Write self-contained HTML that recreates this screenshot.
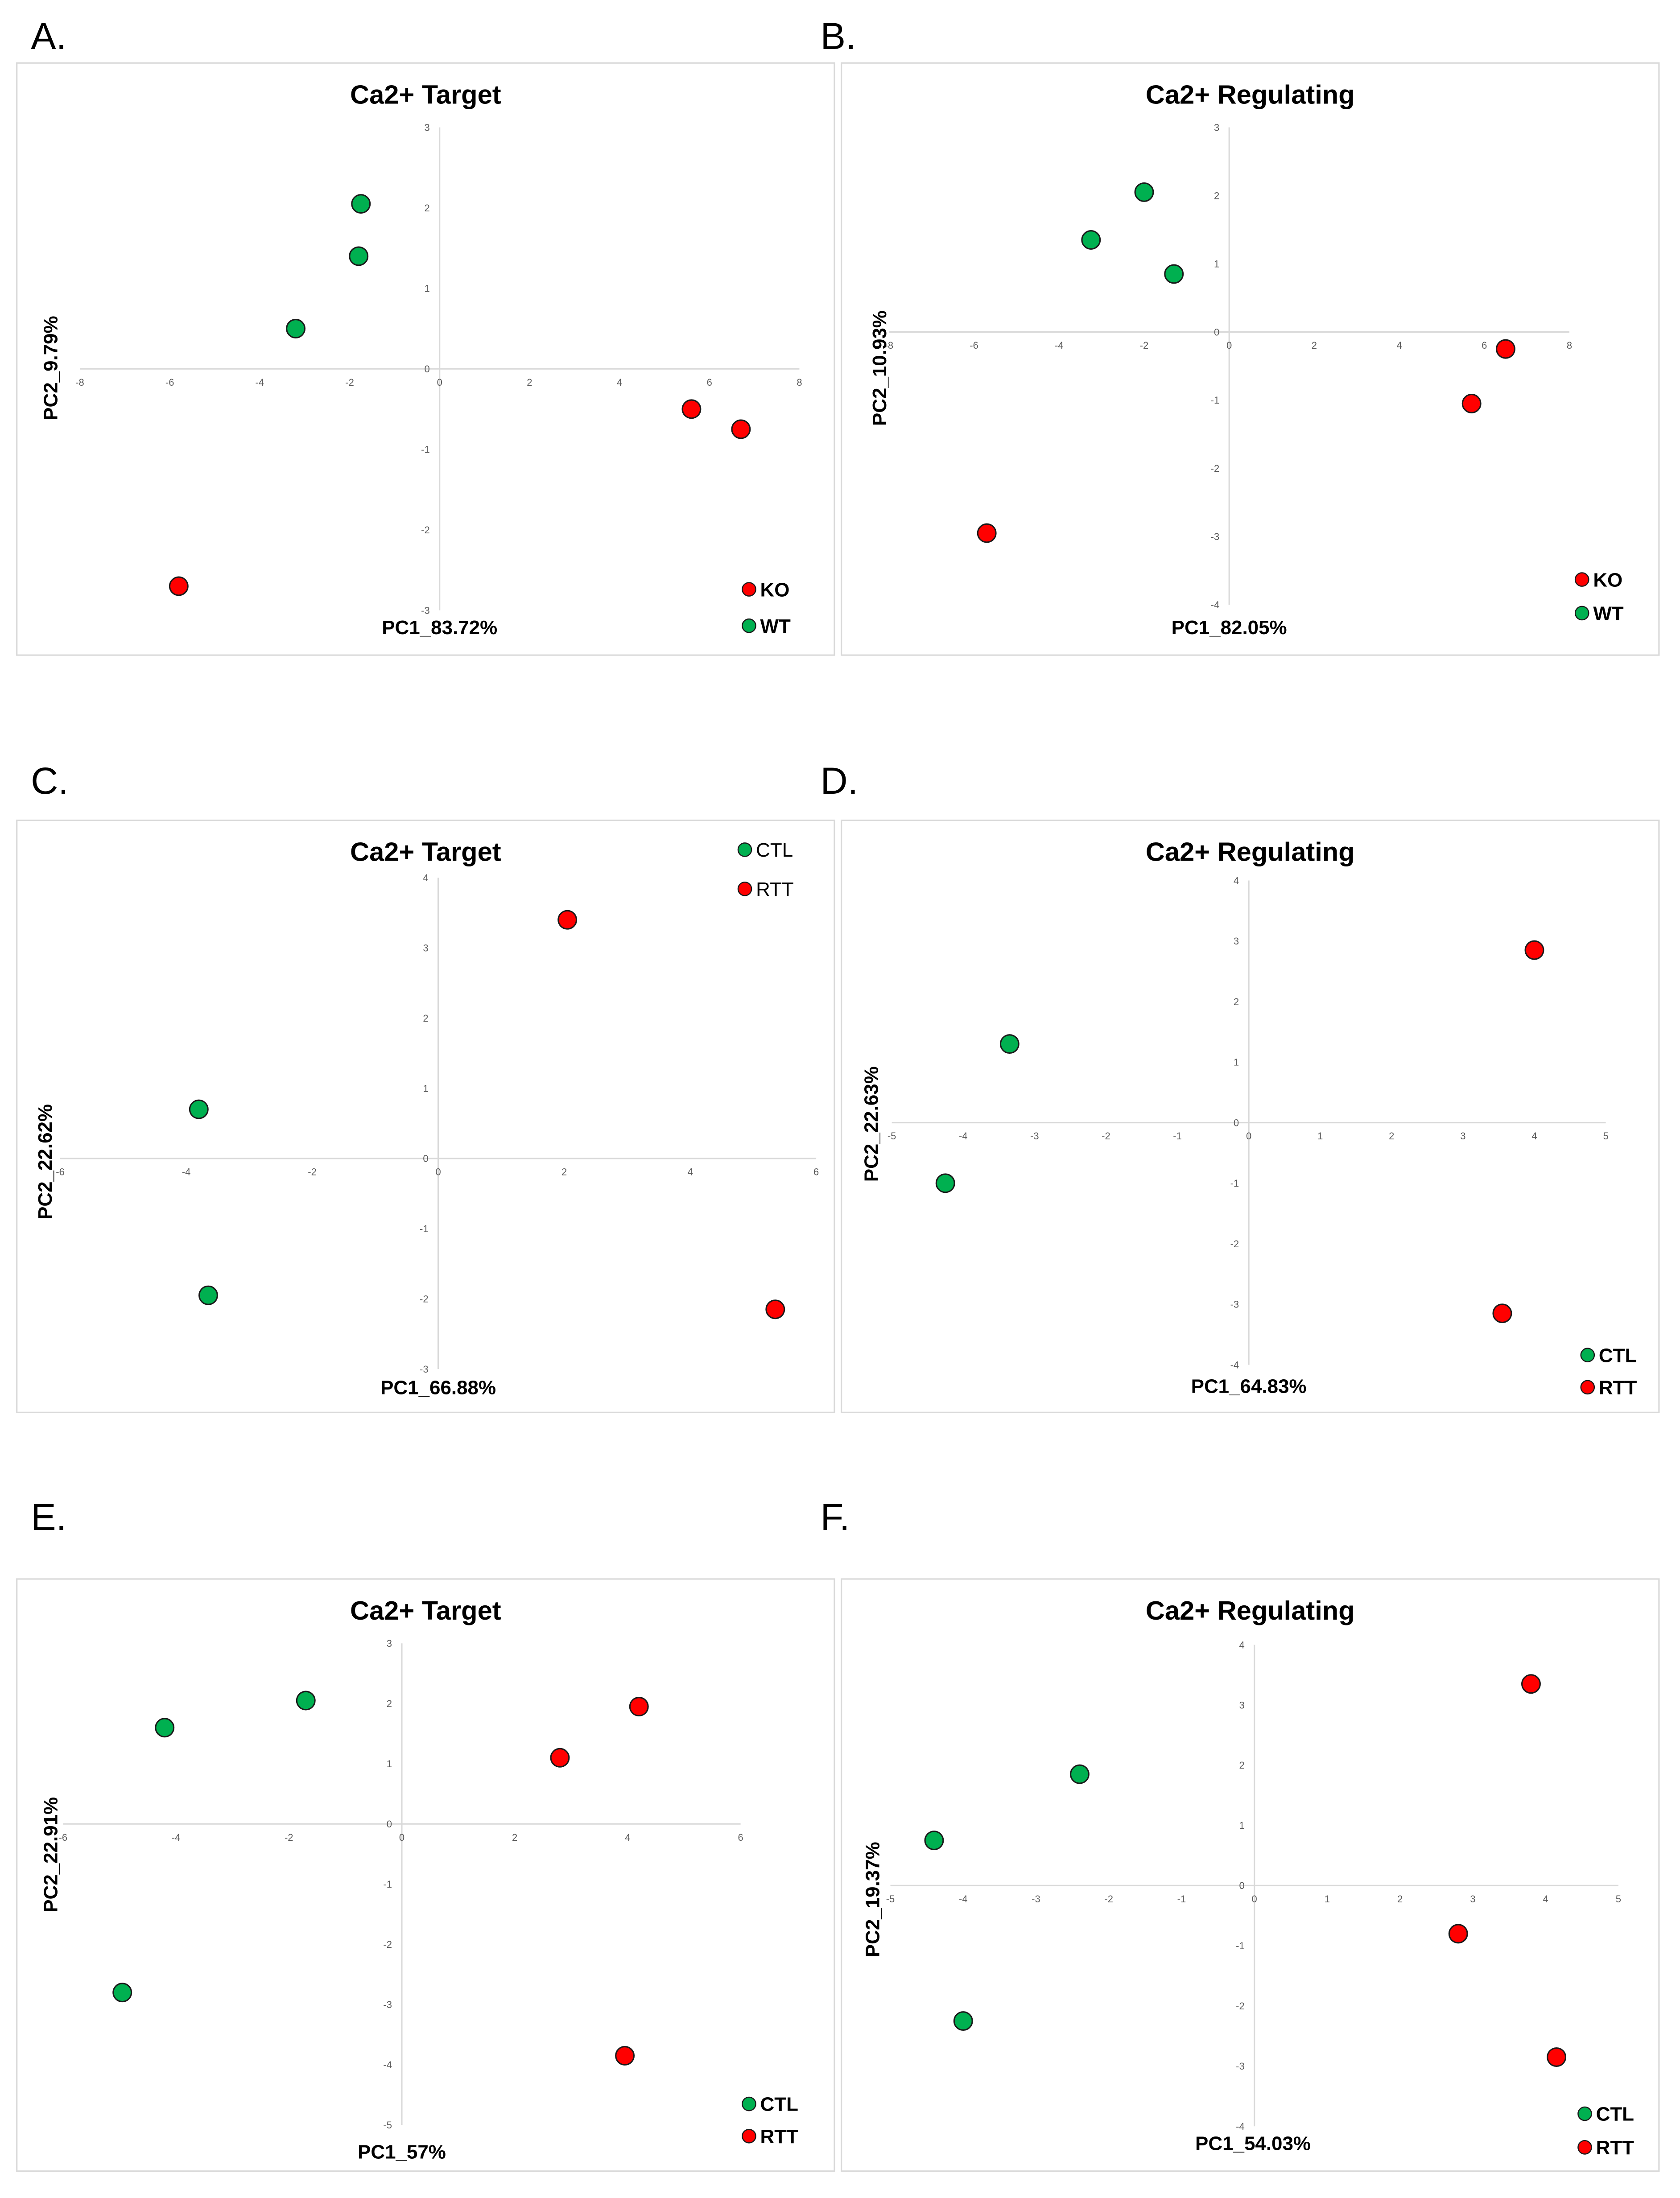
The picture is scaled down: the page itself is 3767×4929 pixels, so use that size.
<!DOCTYPE html>
<html><head><meta charset="utf-8"><style>
html,body{margin:0;padding:0;background:#fff}
svg{display:block}
text{font-family:"Liberation Sans",Arial,sans-serif}
</style></head><body>
<svg id="fig" width="3767" height="4929" viewBox="0 0 1200 1570.2" xmlns="http://www.w3.org/2000/svg"></svg>
<script>
// Panel data
const panelLetters = ["A.","B.","C.","D.","E.","F."];
const panelTitles = ["Ca2+ Target","Ca2+ Regulating","Ca2+ Target","Ca2+ Regulating","Ca2+ Target","Ca2+ Regulating"];
const xTitles = ["PC1_83.72%","PC1_82.05%","PC1_66.88%","PC1_64.83%","PC1_57%","PC1_54.03%"];
const yTitles = ["PC2_9.79%","PC2_10.93%","PC2_22.62%","PC2_22.63%","PC2_22.91%","PC2_19.37%"];
const groupRed = ["KO","KO","RTT","RTT","RTT","RTT"];
const groupGreen = ["WT","WT","CTL","CTL","CTL","CTL"];
const xRanges = [[-8,8,2],[-8,8,2],[-6,6,2],[-5,5,1],[-6,6,2],[-5,5,1]];
const yRanges = [[-3,3,1],[-4,3,1],[-3,4,1],[-4,4,1],[-5,3,1],[-4,4,1]];
const greenX = [[-1.75,-1.8,-3.2],[-2.0,-3.25,-1.3],[-3.8,-3.65],[-3.35,-4.25],[-4.2,-1.7,-4.95],[-4.4,-2.4,-4.0]];
const greenY = [[2.05,1.4,0.5],[2.05,1.35,0.85],[0.7,-1.95],[1.3,-1.0],[1.6,2.05,-2.8],[0.75,1.85,-2.25]];
const redX = [[5.6,6.7,-5.8],[6.5,5.7,-5.7],[2.05,5.35],[4.0,3.55],[2.8,4.2,3.95],[3.8,2.8,4.15]];
const redY = [[-0.5,-0.75,-2.7],[-0.25,-1.05,-2.95],[3.4,-2.15],[2.85,-3.15],[1.1,1.95,-3.85],[3.35,-0.8,-2.85]];

// layout (preview coordinates, viewBox scaled)
const L = [
 {bx:12,by:45,lx:22,ly:35,px0:57,px1:571,py0:91,py1:436,ttl:67,xt:[314,453],yt:[36,263],leg:[[535,421,'r'],[535,447,'g']],legBold:true},
 {bx:601,by:45,lx:586,ly:35,px0:635,px1:1121,py0:91,py1:432,ttl:67,xt:[878,453],yt:[628,263],leg:[[1130,414,'r'],[1130,438,'g']],legBold:true},
 {bx:12,by:586,lx:22,ly:567,px0:43,px1:583,py0:627,py1:978,ttl:608,xt:[313,996],yt:[32,830],leg:[[532,607,'g'],[532,635,'r']],legBold:false},
 {bx:601,by:586,lx:586,ly:567,px0:637,px1:1147,py0:629,py1:975,ttl:608,xt:[892,995],yt:[622,803],leg:[[1134,968,'g'],[1134,991,'r']],legBold:true},
 {bx:12,by:1128,lx:22,ly:1093,px0:45,px1:529,py0:1174,py1:1518,ttl:1150,xt:[287,1542],yt:[36,1325],leg:[[535,1503,'g'],[535,1526,'r']],legBold:true},
 {bx:601,by:1128,lx:586,ly:1093,px0:636,px1:1156,py0:1175,py1:1519,ttl:1150,xt:[895,1536],yt:[623,1357],leg:[[1132,1510,'g'],[1132,1534,'r']],legBold:true}
];
const NS="http://www.w3.org/2000/svg";
const svg=document.getElementById('fig');
function mk(tag,attrs,parent,txt){const e=document.createElementNS(NS,tag);for(const k in attrs)e.setAttribute(k,attrs[k]);if(txt!==undefined)e.textContent=txt;parent.appendChild(e);return e;}
const RED="#ff0000",GREEN="#00b050";
for(let p=0;p<6;p++){
  const c=L[p];
  const g=mk('g',{},svg);
  
  
  const lab=mk('text',{x:c.lx,y:c.ly,'font-size':27,fill:'#000'},g,panelLetters[p]);
  
  
  const box=mk('rect',{x:c.bx,y:c.by,width:584,height:423,fill:'#fff',stroke:'#d9d9d9','stroke-width':1},g);
  
  
  const [xmin,xmax,xs]=xRanges[p],[ymin,ymax,ys]=yRanges[p];
  const sx=v=>c.px0+(v-xmin)/(xmax-xmin)*(c.px1-c.px0);
  const sy=v=>c.py0+(ymax-v)/(ymax-ymin)*(c.py1-c.py0);
  const ax=mk('line',{x1:sx(xmin),x2:sx(xmax),y1:sy(0),y2:sy(0),stroke:'#d9d9d9','stroke-width':1},g);
  
  
  const ay=mk('line',{x1:sx(0),x2:sx(0),y1:sy(ymax),y2:sy(ymin),stroke:'#d9d9d9','stroke-width':1},g);
  
  
  for(let v=xmin;v<=xmax+1e-9;v+=xs){
    const t=mk('text',{x:sx(v),y:sy(0)+12,'font-size':7,fill:'#595959','text-anchor':'middle'},g,String(v));
    
    
  }
  for(let v=ymin;v<=ymax+1e-9;v+=ys){
    const t=mk('text',{x:sx(0)-7,y:sy(v)+2.5,'font-size':7,fill:'#595959','text-anchor':'end'},g,String(v));
    
    
  }
  const ti=mk('text',{x:(c.bx+292),y:c.ttl+7,'font-size':19,'font-weight':'bold',fill:'#000','text-anchor':'middle'},g,panelTitles[p]);
  
  
  const xt=mk('text',{x:c.xt[0],y:c.xt[1],'font-size':14,'font-weight':'bold',fill:'#000','text-anchor':'middle'},g,xTitles[p]);
  
  
  const yt=mk('text',{x:0,y:0,'font-size':14,'font-weight':'bold',fill:'#000','text-anchor':'middle',transform:`translate(${c.yt[0]+5},${c.yt[1]}) rotate(-90)`},g,yTitles[p]);
  
  
  for(let i=0;i<greenX[p].length;i++){
    const m=mk('circle',{cx:sx(greenX[p][i]),cy:sy(greenY[p][i]),r:6.5,fill:GREEN,stroke:'#1a1a1a','stroke-width':1},g);
    
    
  }
  for(let i=0;i<redX[p].length;i++){
    const m=mk('circle',{cx:sx(redX[p][i]),cy:sy(redY[p][i]),r:6.5,fill:RED,stroke:'#1a1a1a','stroke-width':1},g);
    
    
  }
  for(const [lx,ly,col] of c.leg){
    const lg=mk('g',{},g);
    
    
    mk('circle',{cx:lx,cy:ly,r:4.8,fill:col==='r'?RED:GREEN,stroke:'#1a1a1a','stroke-width':0.8},lg);
    mk('text',{x:lx+8,y:ly+5,'font-size':14,'font-weight':c.legBold?'bold':'normal',fill:'#000'},lg,col==='r'?groupRed[p]:groupGreen[p]);
  }
}
</script>
</body></html>
